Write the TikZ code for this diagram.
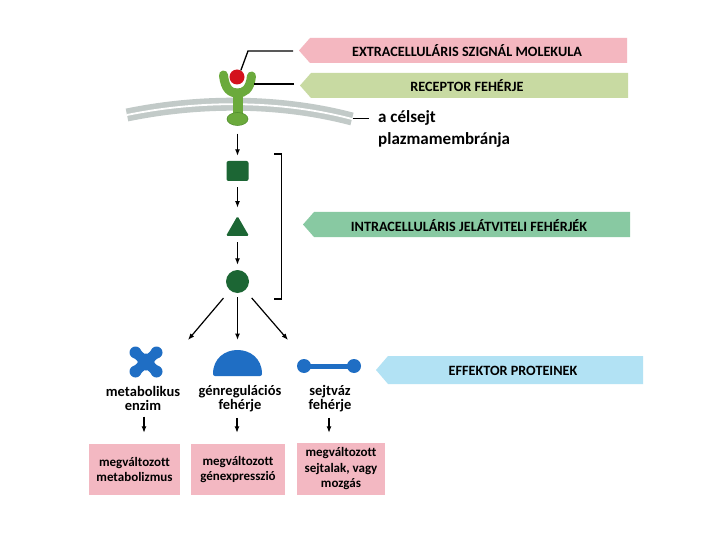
\documentclass[tikz,border=0pt]{standalone}
\usepackage{fontspec}
\setmainfont{Carlito}[Ligatures=NoCommon]
\usetikzlibrary{arrows.meta,shapes.geometric}
\definecolor{bpink}{HTML}{F4B7C0}
\definecolor{bgreen}{HTML}{C8DAA2}
\definecolor{bteal}{HTML}{88C9A2}
\definecolor{bblue}{HTML}{B2E2F4}
\definecolor{boxpink}{HTML}{F3B8C2}
\definecolor{dgreen}{HTML}{1C6634}
\definecolor{rgreen}{HTML}{6BAA3C}
\definecolor{rgreenD}{HTML}{4C8A2A}
\definecolor{ballred}{HTML}{D3121C}
\definecolor{eblue}{HTML}{1F6EC4}
\definecolor{memgray}{HTML}{C2CAC8}
\begin{document}
\begin{tikzpicture}[x=1pt,y=-1pt,
  conn/.style={line width=1.3pt,black},
  arr/.style={line width=1.2pt,-{Latex[length=6.5pt,width=5pt]}},
  bantext/.style={font=\fontsize{14.2}{15}\selectfont\bfseries,inner sep=0pt},
  lbl/.style={font=\fontsize{14.5}{13.5}\selectfont\bfseries,align=center,inner sep=0pt},
  resbox/.style={fill=boxpink,font=\fontsize{13}{15.5}\selectfont\bfseries,align=center,inner sep=0pt,minimum height=51pt},
  sig/.style={fill=dgreen,draw=none,inner sep=0pt},
  memtext/.style={font=\fontsize{17}{20}\selectfont\bfseries,anchor=base west,inner sep=0pt},
]
\useasboundingbox (0,0) rectangle (720,540);
\fill[white] (0,0) rectangle (720,540);

% banners
\fill[bpink] (299,50.5) -- (310,38) -- (627,38) -- (627,63) -- (310,63) -- cycle;
\node[bantext] (b1) at (467,51) {EXTRACELLULÁRIS SZIGNÁL MOLEKULA};
\coordinate (b1tip) at (299,51);
\fill[bgreen] (300,85.5) -- (311,73) -- (628,73) -- (628,98) -- (311,98) -- cycle;
\node[bantext] (b2) at (467,86) {RECEPTOR FEHÉRJE};
\coordinate (b2tip) at (300,84);
\fill[bteal] (303,224.5) -- (314,212) -- (630,212) -- (630,237) -- (314,237) -- cycle;
\node[bantext] (b3) at (469,225.5) {INTRACELLULÁRIS JELÁTVITELI FEHÉRJÉK};
\fill[bblue] (376,370) -- (388,356) -- (643,356) -- (643,384) -- (388,384) -- cycle;
\node[bantext] (b4) at (513,371) {EFFEKTOR PROTEINEK};

% membrane
\draw[memgray, line width=13pt] (127,115) .. controls (200,100) and (280,100) .. (352,119);
\draw[white, line width=1.8pt] (127,115) .. controls (200,100) and (280,100) .. (352,119);

% receptor
\draw[rgreen, line width=9pt, line cap=round] (223.5,75) .. controls (225,90) and (231,93) .. (237.5,93) .. controls (244,93) and (250,90) .. (251.5,76);
\draw[rgreen, line width=10pt] (237.5,90) -- (237.5,115);
\node[ellipse, fill=rgreen, draw=rgreenD, line width=0.5pt, minimum width=21pt, minimum height=13pt, inner sep=0pt] (bulb) at (237.5,119) {};
\node[circle, fill=ballred, minimum size=15pt, inner sep=0pt] (ball) at (237,77) {};

\draw[conn] (b1tip) ++(-6,0) -- ++(-45,0) -- (ball.60);
\draw[conn] (b2tip) ++(-6,0) -- ++(-40,0);

% membrane label
\node[memtext] (mem1) at (378,123) {a célsejt};
\node[memtext] (mem2) at (378,145) {plazmamembránja};
\draw[conn] ([xshift=-9pt]mem1.west) -- ++(-16,0);

% signalling proteins
\node[sig, rectangle, rounded corners=2pt, minimum width=22pt, minimum height=20pt] (sq) at (237.5,171) {};
\node[sig, regular polygon, regular polygon sides=3, minimum size=26.6pt, rounded corners=1.5pt] (tri) at (237.5,229.3) {};
\node[sig, circle, minimum size=23pt] (circ) at (237.5,281.5) {};

\draw[arr, shorten <=8pt, shorten >=5pt] (bulb) -- (sq);
\draw[arr, shorten <=6pt, shorten >=8pt] (sq) -- (tri);
\draw[arr, shorten <=6pt, shorten >=5pt] (tri) -- (circ);

\draw[conn] (274,154) -- (281.5,154) -- (281.5,299) -- (274,299);

\coordinate (t1) at (188,340);
\coordinate (t2) at (237.5,340);
\coordinate (t3) at (288,340);
\draw[arr, shorten <=10pt] (circ) -- (t1);
\draw[arr, shorten <=4pt] (circ) -- (t2);
\draw[arr, shorten <=10pt] (circ) -- (t3);

% effector proteins
\begin{scope}[eblue]
\draw[line width=10pt] (135.5,352.5) -- (156.5,371.5);
\draw[line width=10pt] (135.5,371.5) -- (156.5,352.5);
\fill (146,362) circle[radius=8.5pt];
\fill (135.5,352.5) circle[radius=6pt];
\fill (156.5,352.5) circle[radius=6pt];
\fill (135.5,371.5) circle[radius=6pt];
\fill (156.5,371.5) circle[radius=6pt];
\fill[rounded corners=2pt] (213,376) .. controls (213,342) and (262,342) .. (262,376) -- cycle;
\draw[line width=5pt] (304,366) -- (354,366);
\fill (304,366) circle[radius=7pt];
\fill (354,366) circle[radius=7pt];
\end{scope}

% labels
\node[lbl] (l1) at (143,398.5) {metabolikus\\enzim};
\node[lbl] (l2) at (240,398.5) {génregulációs\\fehérje};
\node[lbl] (l3) at (330,398.5) {sejtváz\\fehérje};

% result boxes
\node[resbox, minimum width=91pt] (r1) at (134.5,469.5) {megváltozott\\metabolizmus};
\node[resbox, minimum width=94pt] (r2) at (238,469.5) {megváltozott\\génexpresszió};
\node[resbox, minimum width=88pt, minimum height=52pt] (r3) at (341,469) {megváltozott\\sejtalak, vagy\\mozgás};

\draw[arr, shorten <=6pt, shorten >=11pt] ([xshift=1pt]l1.south) -- ([xshift=1pt]l1.south |- r1.north);
\draw[arr, shorten <=6pt, shorten >=11pt] ([xshift=-3pt]l2.south) -- ([xshift=-3pt]l2.south |- r2.north);
\draw[arr, shorten <=6pt, shorten >=10pt] ([xshift=-1pt]l3.south) -- ([xshift=-1pt]l3.south |- r3.north);
\end{tikzpicture}
\end{document}
